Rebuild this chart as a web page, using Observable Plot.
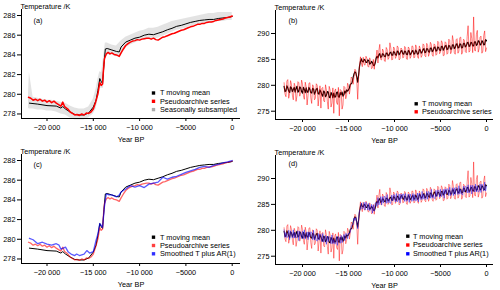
<!DOCTYPE html>
<html><head><meta charset="utf-8">
<script src="https://cdn.jsdelivr.net/npm/d3@7"></script>
<script src="https://cdn.jsdelivr.net/npm/@observablehq/plot@0.6"></script>
<style>
body{margin:0;background:#fff;}
#wrap{position:relative;width:500px;height:290px;background:#fff;}
#wrap svg{position:absolute;}
</style></head><body><div id="wrap"></div>
<script>
// ---------- axis / tick labels ----------
const xTicks = [-20000, -15000, -10000, -5000, 0];
const xTickLabels = ["−20 000", "−15 000", "−10 000", "−5000", "0"];
const yTicksAC = [278, 280, 282, 284, 286, 288];
const yTicksBD = [275, 280, 285, 290];
const xTitle = "Year BP";
const yTitle = "Temperature /K";
const panelLetters = ["(a)", "(b)", "(c)", "(d)"];
const seriesNames = ["T moving mean", "Pseudoarchive series", "Seasonally subsampled", "Smoothed T plus AR(1)"];

// ---------- smoothed series (panels a, c) ----------
const meanYears = [-21900,-21000,-20000,-19000,-18500,-18300,-18000,-17500,-17000,-16500,
  -16000,-15500,-15000,-14700,-14500,-14300,-14100,-14000,-13850,-13700,
  -13500,-13000,-12500,-12200,-12000,-11500,-11000,-10500,-10000,-9500,
  -9000,-8500,-8000,-7500,-7000,-6500,-6000,-5500,-5000,-4500,
  -4000,-3500,-3000,-2500,-2000,-1500,-1000,-500,0];
const meanT = [279.1,279.0,278.85,278.8,278.6,278.75,278.5,278.2,277.95,277.9,
  277.9,278.1,278.7,279.4,280.4,281.6,281.2,281.1,283.0,284.6,
  284.65,284.5,284.35,284.3,284.8,285.3,285.5,285.7,285.8,286.0,
  286.1,286.05,286.2,286.35,286.55,286.7,286.9,287.0,287.15,287.3,
  287.4,287.5,287.55,287.6,287.6,287.7,287.75,287.8,287.9];

const pseudoYears = [-22000,-21750,-21500,-21250,-21000,-20750,-20500,-20250,-20000,-19750,
  -19500,-19250,-19000,-18750,-18500,-18300,-18100,-17750,-17500,-17250,
  -17000,-16750,-16500,-16250,-16000,-15750,-15500,-15250,-15000,-14750,
  -14500,-14300,-14150,-14000,-13900,-13800,-13600,-13400,-13200,-13000,
  -12750,-12500,-12200,-12000,-11750,-11500,-11250,-11000,-10750,-10500,
  -10250,-10000,-9750,-9500,-9250,-9000,-8750,-8500,-8250,-8000,
  -7750,-7500,-7250,-7000,-6750,-6500,-6250,-6000,-5750,-5500,
  -5250,-5000,-4750,-4500,-4250,-4000,-3750,-3500,-3250,-3000,
  -2750,-2500,-2250,-2000,-1750,-1500,-1250,-1000,-750,-500,
  -250,0];
const pseudoT = [279.7,279.6,279.4,279.5,279.35,279.5,279.3,279.4,279.2,279.35,
  279.15,279.3,279.1,278.95,278.8,279.2,278.75,278.5,278.2,278.05,
  277.9,277.95,277.85,278.0,277.9,278.1,278.05,278.2,278.5,279.2,
  280.05,281.2,280.9,281.05,282.5,283.6,284.1,284.25,284.1,284.2,
  284.05,284.0,283.85,284.2,284.6,284.95,285.15,285.3,285.4,285.45,
  285.55,285.5,285.6,285.65,285.7,285.7,285.6,285.7,285.55,285.5,
  285.65,285.8,285.85,285.95,286.05,286.15,286.2,286.3,286.4,286.5,
  286.55,286.65,286.75,286.85,286.9,287.0,287.1,287.1,287.2,287.2,
  287.3,287.35,287.35,287.4,287.5,287.55,287.6,287.65,287.75,287.8,
  287.85,287.95];

const seasonYears = [-22000,-21900,-21500,-21000,-20500,-20000,-19500,-19000,-18500,-18000,
  -17500,-17000,-16500,-16000,-15500,-15000,-14700,-14500,-14300,-14100,
  -13900,-13700,-13500,-13000,-12500,-12000,-11500,-11000,-10500,-10000,
  -9500,-9000,-8500,-8000,-7500,-7000,-6500,-6000,-5500,-5000,
  -4500,-4000,-3500,-3000,-2500,-2000,-1500,-1000,-500,0];
const seasonLow = [278.6,278.5,278.5,278.4,278.4,278.3,278.3,278.2,278.0,277.9,
  277.6,277.4,277.4,277.4,277.6,278.0,278.5,279.4,280.6,280.6,
  280.6,283.4,284.0,284.0,283.8,283.9,284.7,285.0,285.2,285.4,
  285.5,285.6,285.6,285.7,285.9,286.1,286.3,286.5,286.6,286.7,
  286.9,287.0,287.1,287.2,287.2,287.3,287.4,287.4,287.5,287.5];
const seasonHigh = [280.0,282.2,279.7,279.6,279.5,279.4,279.4,279.3,279.2,279.1,
  278.8,278.6,278.5,278.5,278.7,279.5,280.5,281.5,282.3,282.2,
  283.7,285.2,285.2,285.0,284.9,285.4,285.8,286.0,286.2,286.4,
  286.5,286.7,286.7,286.8,287.0,287.2,287.4,287.5,287.6,287.7,
  287.8,287.9,288.0,288.1,288.2,288.2,288.3,288.3,288.3,288.3];

const smoothArYears = [-21900,-21500,-21000,-20500,-20000,-19500,-19000,-18700,-18500,-18000,
  -17700,-17400,-17000,-16800,-16500,-16000,-15700,-15400,-15000,-14700,
  -14500,-14300,-14100,-14000,-13800,-13600,-13300,-13000,-12500,-12200,
  -12000,-11500,-11000,-10500,-10000,-9500,-9000,-8500,-8000,-7500,
  -7000,-6500,-6000,-5500,-5000,-4500,-4000,-3500,-3000,-2500,
  -2000,-1500,-1000,-500,0];
const smoothArT = [280.1,279.95,279.55,279.7,279.5,279.4,279.55,279.4,279.0,279.2,
  278.7,278.5,278.35,278.5,278.35,278.5,278.85,278.6,278.75,279.9,
  280.55,281.6,281.35,281.2,283.3,284.6,284.5,284.5,284.3,284.5,
  284.8,285.1,285.45,285.3,285.45,285.25,285.6,285.7,285.8,286.3,
  286.1,286.3,286.4,286.6,286.8,286.95,287.1,287.3,287.4,287.3,
  287.5,287.6,287.75,287.85,288.0];

// ---------- high-resolution series (panels b, d), one value per century ----------
const fineYears = [-22000,-21900,-21800,-21700,-21600,-21500,-21400,-21300,-21200,-21100,
  -21000,-20900,-20800,-20700,-20600,-20500,-20400,-20300,-20200,-20100,
  -20000,-19900,-19800,-19700,-19600,-19500,-19400,-19300,-19200,-19100,
  -19000,-18900,-18800,-18700,-18600,-18500,-18400,-18300,-18200,-18100,
  -18000,-17900,-17800,-17700,-17600,-17500,-17400,-17300,-17200,-17100,
  -17000,-16900,-16800,-16700,-16600,-16500,-16400,-16300,-16200,-16100,
  -16000,-15900,-15800,-15700,-15600,-15500,-15400,-15300,-15200,-15100,
  -15000,-14900,-14800,-14700,-14600,-14500,-14400,-14300,-14200,-14100,
  -14000,-13900,-13800,-13700,-13600,-13500,-13400,-13300,-13200,-13100,
  -13000,-12900,-12800,-12700,-12600,-12500,-12400,-12300,-12200,-12100,
  -12000,-11900,-11800,-11700,-11600,-11500,-11400,-11300,-11200,-11100,
  -11000,-10900,-10800,-10700,-10600,-10500,-10400,-10300,-10200,-10100,
  -10000,-9900,-9800,-9700,-9600,-9500,-9400,-9300,-9200,-9100,
  -9000,-8900,-8800,-8700,-8600,-8500,-8400,-8300,-8200,-8100,
  -8000,-7900,-7800,-7700,-7600,-7500,-7400,-7300,-7200,-7100,
  -7000,-6900,-6800,-6700,-6600,-6500,-6400,-6300,-6200,-6100,
  -6000,-5900,-5800,-5700,-5600,-5500,-5400,-5300,-5200,-5100,
  -5000,-4900,-4800,-4700,-4600,-4500,-4400,-4300,-4200,-4100,
  -4000,-3900,-3800,-3700,-3600,-3500,-3400,-3300,-3200,-3100,
  -3000,-2900,-2800,-2700,-2600,-2500,-2400,-2300,-2200,-2100,
  -2000,-1900,-1800,-1700,-1600,-1500,-1400,-1300,-1200,-1100,
  -1000,-900,-800,-700,-600,-500,-400,-300,-200,-100,
  0];
const fineMeanT = [279.8,278.8,278.9,279.9,279.5,278.9,278.6,279.7,279.5,278.8,
  279.2,279.6,278.7,279.4,279.8,278.7,278.9,279.7,279.5,278.8,
  278.5,279.6,279.2,278.6,279.5,278.7,278.7,279.6,279.2,278.6,
  278.5,279.4,279.3,278.3,278.7,279.3,279.4,278.4,278.3,279.1,
  278.7,278.2,277.9,278.9,278.7,277.8,278.1,278.8,278.7,277.7,
  277.6,278.6,278.3,277.6,278.5,277.7,277.8,278.6,278.7,277.8,
  277.7,278.6,278.2,278.7,277.9,278.2,278.9,278.5,279.1,278.9,
  279.1,279.5,280.2,280.3,280.6,281.5,282.2,282.6,282.4,281.6,
  280.6,282.0,283.7,284.6,285.1,284.6,284.5,285.0,284.9,284.4,
  284.4,284.9,284.8,284.1,284.2,284.6,284.4,283.9,283.8,284.3,
  285.2,285.6,285.3,285.9,286.1,285.4,285.5,286.1,286.0,285.6,
  285.5,286.2,286.2,285.7,285.8,286.3,286.4,285.8,285.8,286.5,
  286.4,285.9,285.8,286.6,286.5,285.9,286.2,286.6,286.7,286.1,
  286.0,286.6,286.5,286.0,285.9,286.7,286.6,285.9,286.1,286.6,
  286.7,286.0,286.1,286.8,286.5,286.0,286.1,286.9,286.8,286.2,
  286.4,286.9,287.1,286.3,286.4,287.1,287.0,286.5,286.4,287.2,
  287.2,286.5,286.7,287.3,287.4,286.6,286.7,287.4,287.3,286.8,
  286.7,287.5,287.5,286.8,287.1,287.6,287.7,286.9,287.0,287.7,
  287.6,287.0,287.0,287.8,287.8,287.1,287.3,287.9,288.0,287.2,
  287.3,288.0,287.9,287.2,287.3,288.1,288.1,287.4,287.6,288.2,
  288.3,287.5,287.6,288.3,288.2,287.6,287.6,288.4,288.4,287.7,
  287.9,288.6,288.5,287.8,287.9,288.6,288.4,287.8,287.9,288.8,
  288.6];
const finePseudoT = [280.5,278.3,277.8,280.8,281.1,277.5,278.4,280.9,280.2,278.1,
  277.2,280.4,279.8,276.9,278.0,280.7,280.5,277.9,278.6,281.0,
  280.2,278.0,277.3,280.6,279.7,276.2,278.0,280.4,280.5,277.6,
  276.5,280.1,279.8,277.2,277.5,280.3,280.0,276.0,277.8,279.9,
  275.6,279.4,279.6,277.0,276.8,280.1,279.1,276.9,275.4,279.8,
  279.1,275.8,276.6,279.5,274.6,278.9,279.3,276.7,276.3,279.6,
  274.1,279.2,279.0,275.4,276.2,279.8,279.6,277.4,278.1,280.4,
  279.9,278.3,279.5,281.6,281.3,280.2,281.7,283.1,282.8,280.9,
  277.3,281.5,283.8,285.5,284.3,283.6,285.4,284.0,283.9,285.6,
  285.2,283.7,283.5,285.3,284.8,283.2,283.4,285.0,283.1,284.8,
  285.5,286.8,284.3,286.7,287.9,285.0,284.9,287.0,286.6,284.7,
  284.6,287.3,286.9,285.0,285.3,288.2,287.2,284.9,285.0,287.4,
  287.1,285.2,285.6,287.6,287.3,284.9,285.1,287.2,287.0,285.3,
  285.4,287.5,287.3,285.1,285.0,287.4,287.1,285.2,285.6,287.6,
  287.5,285.3,285.4,287.8,287.3,285.5,285.2,287.6,287.1,285.4,
  285.8,288.0,287.8,285.7,285.5,288.1,287.7,285.6,286.2,288.3,
  287.9,285.9,285.6,288.0,287.8,285.8,286.0,288.5,288.3,286.1,
  286.4,288.6,288.2,285.7,285.8,288.4,288.2,286.0,286.2,288.9,
  288.7,286.1,286.5,289.6,288.5,286.3,286.0,288.8,289.0,286.2,
  286.6,289.2,289.3,286.0,286.4,288.9,288.7,286.5,286.3,289.4,
  291.5,286.4,286.7,290.2,289.0,286.3,293.2,286.8,286.6,289.8,
  290.6,286.4,287.1,289.3,289.5,286.2,286.6,289.6,290.5,286.5,
  287.2];
const fineArT = [280.1,278.6,279.6,278.6,278.7,280.0,278.2,279.9,279.4,278.5,
  280.1,278.5,279.6,278.5,278.7,279.9,278.0,279.8,279.1,278.4,
  279.8,278.4,280.1,278.3,278.8,279.7,278.2,279.7,278.7,279.7,
  279.6,278.2,280.0,278.1,279.0,278.1,277.9,279.4,278.1,279.3,
  279.0,277.8,279.4,277.7,278.3,279.0,277.3,278.9,277.8,278.8,
  278.6,277.4,279.1,277.4,278.2,277.4,277.4,278.8,277.1,278.8,
  278.4,277.5,279.0,277.6,278.2,279.2,278.0,279.4,279.3,278.4,
  279.5,279.3,279.7,280.7,281.1,281.1,282.4,281.9,282.5,281.3,
  280.3,282.5,283.8,284.1,285.3,284.1,284.4,285.4,283.9,285.4,
  284.9,283.9,285.2,283.8,284.1,285.0,283.3,284.9,283.7,285.2,
  285.4,284.6,286.3,284.9,285.5,286.5,284.9,286.5,285.3,286.6,
  286.4,285.2,286.9,285.3,286.1,285.3,285.2,286.8,285.7,286.9,
  286.8,285.5,287.1,285.5,285.9,287.0,285.3,287.0,286.1,287.0,
  287.0,285.6,287.1,285.6,285.9,287.0,285.4,287.0,286.4,285.6,
  287.1,285.7,286.9,285.7,285.8,287.2,285.5,287.2,286.7,285.9,
  287.5,286.0,287.0,286.0,286.0,287.5,286.0,287.5,287.2,286.2,
  287.9,286.2,286.9,286.3,286.1,287.7,286.5,287.8,287.7,286.4,
  287.9,286.5,287.0,287.9,286.2,288.0,287.0,288.0,288.0,286.7,
  288.3,286.7,287.3,288.2,286.7,288.2,286.9,288.3,288.1,286.9,
  288.6,287.0,287.9,287.0,286.8,288.5,287.4,288.5,288.4,287.2,
  288.8,287.2,287.6,288.7,287.0,288.7,288.0,287.4,288.9,287.4,
  288.6,287.4,287.5,288.9,287.3,288.9,288.5,287.6,289.3,287.6,
  288.5];

// ---------- build tables ----------
const zip = (xs, ys) => xs.map((x, i) => ({year: x, T: ys[i]}));
const meanData = zip(meanYears, meanT);
const pseudoData = zip(pseudoYears, pseudoT);
const arData = zip(smoothArYears, smoothArT);
const seasonData = seasonYears.map((x, i) => ({year: x, lo: seasonLow[i], hi: seasonHigh[i]}));
const fineMean = zip(fineYears, fineMeanT);
const finePseudo = zip(fineYears, finePseudoT);
const fineAr = zip(fineYears, fineArT);

const xLabelMap = new Map(xTicks.map((t, i) => [t, xTickLabels[i]]));

function panel(cfg) {
  const legendMarks = [];
  cfg.legend.forEach((item, i) => {
    const dy = cfg.legDy + i * cfg.legStep;
    legendMarks.push(Plot.dot([item], {frameAnchor: "top-left", dx: cfg.legMarkDx, dy, symbol: "square", r: 1.9, fill: item.color, stroke: "none"}));
    legendMarks.push(Plot.text([item.name], {text: d => d, frameAnchor: "top-left", textAnchor: "start", lineAnchor: "middle", dx: cfg.legTextDx, dy, fill: "#000"}));
  });
  const svg = Plot.plot({
    width: 250, height: 145,
    marginLeft: cfg.ml, marginRight: cfg.mr, marginTop: cfg.mt, marginBottom: cfg.mb,
    x: {domain: cfg.xDomain},
    y: {domain: cfg.yDomain},
    style: {fontFamily: "'Liberation Sans', Arial, sans-serif", fontSize: "7.3px", background: "transparent", color: "#000"},
    marks: [
      ...cfg.marks,
      Plot.ruleX([cfg.xDomain[0]], {stroke: "#000", strokeWidth: 1}),
      Plot.ruleY([cfg.yDomain[0]], {stroke: "#000", strokeWidth: 1}),
      Plot.axisX({ticks: xTicks, tickFormat: d => xLabelMap.get(d), tickSize: 3, tickPadding: 3, label: null}),
      Plot.axisY({ticks: cfg.yTicks, tickSize: 4, tickPadding: 2, label: null}),
      Plot.text([yTitle], {text: d => d, frameAnchor: "top-left", textAnchor: "start", lineAnchor: "middle", dx: -1, dy: -3}),
      Plot.text([cfg.letter], {text: d => d, frameAnchor: "top-left", textAnchor: "start", lineAnchor: "middle", dx: cfg.letDx, dy: cfg.letDy}),
      Plot.text([xTitle], {text: d => d, frameAnchor: "bottom", lineAnchor: "middle", dy: 21}),
      ...legendMarks
    ]
  });
  svg.style.left = cfg.left + "px";
  svg.style.top = cfg.top + "px";
  document.getElementById("wrap").appendChild(svg);
}

const acBase = {ml: 21, mr: 10, mt: 9, mb: 27, xDomain: [-22754, 896], yDomain: [277.54, 288.61], yTicks: yTicksAC,
  legMarkDx: 132, legTextDx: 138.5, legDy: 83.5, legStep: 8.3, letDx: 12, letDy: 11};
const bdBase = {ml: 25, mr: 7, mt: 10, mb: 26, xDomain: [-22935, 761], yDomain: [273.4, 294.44], yTicks: yTicksBD,
  letDx: 13, letDy: 10.5};

// (a)
panel({...acBase, left: 0, top: 0, letter: panelLetters[0],
  legend: [{name: seriesNames[0], color: "#000"}, {name: seriesNames[1], color: "#ff0000"}, {name: seriesNames[2], color: "#aaaaaa"}],
  marks: [
    Plot.areaY(seasonData, {x: "year", y1: "lo", y2: "hi", fill: "#dcdcdc", fillOpacity: 0.8, curve: "linear"}),
    Plot.line(meanData, {x: "year", y: "T", stroke: "#000", strokeWidth: 1}),
    Plot.line(pseudoData, {x: "year", y: "T", stroke: "#ff0000", strokeWidth: 1.5})
  ]});

// (b)
panel({...bdBase, left: 250, top: 0, letter: panelLetters[1],
  legMarkDx: 140.7, legTextDx: 146.5, legDy: 93.3, legStep: 8,
  legend: [{name: seriesNames[0], color: "#000"}, {name: seriesNames[1], color: "#ff0000"}],
  marks: [
    Plot.line(fineMean, {x: "year", y: "T", stroke: "#000", strokeWidth: 1.2}),
    Plot.line(finePseudo, {x: "year", y: "T", stroke: "#ff0000", strokeOpacity: 0.5, strokeWidth: 1})
  ]});

// (c)
panel({...acBase, left: 0, top: 145, letter: panelLetters[2], legDy: 82.7, letDy: 10,
  legend: [{name: seriesNames[0], color: "#000"}, {name: seriesNames[1], color: "#ff4040"}, {name: seriesNames[3], color: "#3030ff"}],
  marks: [
    Plot.line(meanData, {x: "year", y: "T", stroke: "#000", strokeWidth: 1}),
    Plot.line(pseudoData, {x: "year", y: "T", stroke: "#ff0000", strokeOpacity: 0.6, strokeWidth: 1.3}),
    Plot.line(arData, {x: "year", y: "T", stroke: "#0000ff", strokeOpacity: 0.65, strokeWidth: 1.3})
  ]});

// (d)
panel({...bdBase, left: 250, top: 145, letter: panelLetters[3], letDy: 8.3,
  legMarkDx: 132.3, legTextDx: 137.5, legDy: 80.7, legStep: 8.8,
  legend: [{name: seriesNames[0], color: "#000"}, {name: seriesNames[1], color: "#ff0000"}, {name: seriesNames[3], color: "#0000ff"}],
  marks: [
    Plot.line(fineMean, {x: "year", y: "T", stroke: "#000", strokeWidth: 1.1}),
    Plot.line(finePseudo, {x: "year", y: "T", stroke: "#ff0000", strokeOpacity: 0.45, strokeWidth: 1}),
    Plot.line(fineAr, {x: "year", y: "T", stroke: "#2020ff", strokeOpacity: 0.5, strokeWidth: 1})
  ]});
</script></body></html>
